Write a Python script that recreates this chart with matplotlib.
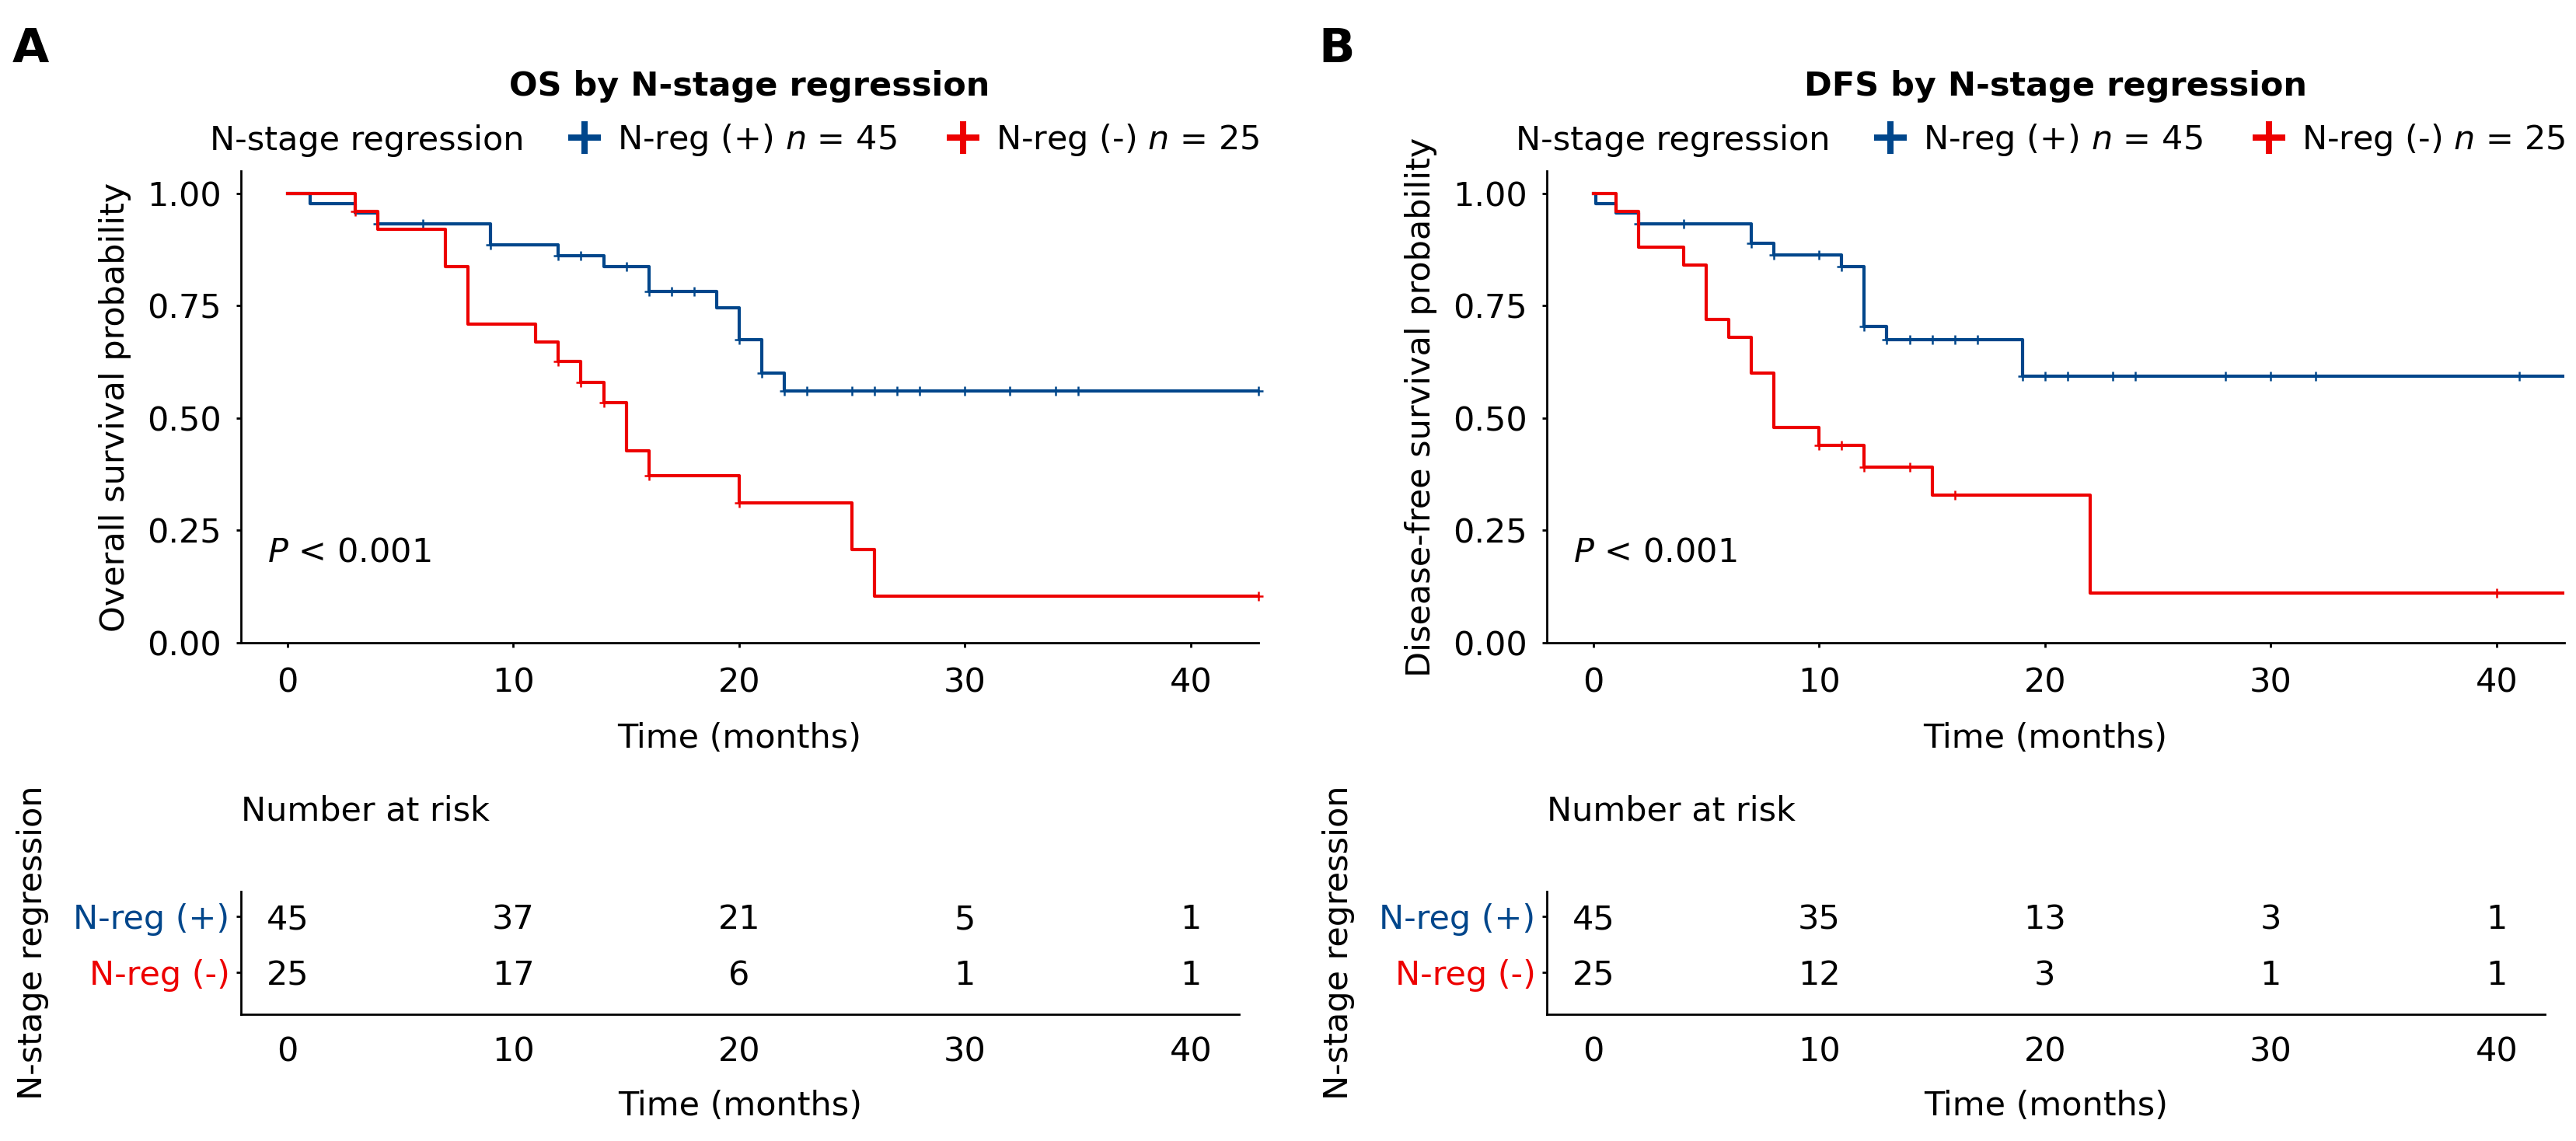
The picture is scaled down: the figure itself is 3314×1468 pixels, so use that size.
import numpy as np
import matplotlib
matplotlib.use('Agg')
import matplotlib.pyplot as plt
from matplotlib.lines import Line2D

plt.rcParams['font.family'] = ['DejaVu Sans']
plt.rcParams['mathtext.fontset'] = 'dejavusans'
plt.rcParams['font.size'] = 15.5

# ---- data ----
# OS, N-reg (+)
os_pos_t = [0, 1, 3, 4, 9, 12, 14, 16, 19, 20, 21, 22]
os_pos_s = [1.000, 0.978, 0.956, 0.933, 0.886, 0.862, 0.837, 0.782, 0.746, 0.675, 0.600, 0.560]
os_pos_cens = [4, 6, 9, 12, 13, 15, 16, 17, 18, 20, 21, 22, 23, 25, 26, 27, 28, 30, 32, 34, 35, 43]
# OS, N-reg (-)
os_neg_t = [0, 3, 4, 7, 8, 11, 12, 13, 14, 15, 16, 20, 25, 26]
os_neg_s = [1.000, 0.960, 0.920, 0.837, 0.710, 0.669, 0.626, 0.580, 0.534, 0.427, 0.372, 0.312, 0.208, 0.104]
os_neg_cens = [3, 12, 13, 14, 16, 20, 43]

# DFS, N-reg (+)
dfs_pos_t = [0, 0.1, 1, 2, 7, 8, 11, 12, 13, 19]
dfs_pos_s = [1.000, 0.978, 0.956, 0.933, 0.889, 0.863, 0.838, 0.704, 0.675, 0.593]
dfs_pos_cens = [2, 4, 7, 8, 10, 11, 12, 13, 14, 15, 16, 17, 19, 20, 21, 23, 24, 28, 30, 32, 41]
# DFS, N-reg (-)
dfs_neg_t = [0, 1, 2, 4, 5, 6, 7, 8, 10, 12, 15, 22]
dfs_neg_s = [1.000, 0.960, 0.880, 0.840, 0.720, 0.680, 0.600, 0.480, 0.440, 0.391, 0.328, 0.110]
dfs_neg_cens = [10, 11, 12, 14, 16, 40]

t_end = 43

# number at risk
risk_times = [0, 10, 20, 30, 40]
os_risk_pos = [45, 37, 21, 5, 1]
os_risk_neg = [25, 17, 6, 1, 1]
dfs_risk_pos = [45, 35, 13, 3, 1]
dfs_risk_neg = [25, 12, 3, 1, 1]

group_labels = ['N-reg (+)', 'N-reg (-)']
legend_labels = [r'N-reg (+) $n$ = 45', r'N-reg (-) $n$ = 25']

blue = '#00468B'
red = '#ED0000'

W, H, DPI = 3314, 1468, 200
fig = plt.figure(figsize=(W / DPI, H / DPI), dpi=DPI)


def box(left, top, right, bottom):
    # pixel box -> figure fraction
    return [left / W, 1 - bottom / H, (right - left) / W, (bottom - top) / H]


def level_at(times, surv, t):
    idx = np.searchsorted(times, t, side='right') - 1
    return np.asarray(surv)[idx]


def panel(dx, letter, title, ylabel, curves, risk_pos, risk_neg):
    # --- survival curves ---
    ax = fig.add_axes(box(310 + dx, 220, 1619 + dx, 827))
    for (times, surv, cens), color in zip(curves, [blue, red]):
        ax.step(list(times) + [t_end], list(surv) + [surv[-1]], where='post',
                color=color, lw=1.5)
        ax.plot(cens, level_at(times, surv, cens), linestyle='none', marker='+',
                ms=4.3, mew=0.9, color=color, clip_on=False)
    ax.set_xlim(-2.06, t_end)
    ax.set_ylim(0, 1.05)
    ax.set_xticks([0, 10, 20, 30, 40])
    ax.set_yticks([0, 0.25, 0.5, 0.75, 1.0])
    ax.set_yticklabels(['0.00', '0.25', '0.50', '0.75', '1.00'])
    for s in ['top', 'right']:
        ax.spines[s].set_visible(False)
    for s in ['left', 'bottom']:
        ax.spines[s].set_linewidth(1.0)
    ax.tick_params(axis='both', length=2, width=1.0)
    ax.tick_params(axis='y', pad=7)
    ax.tick_params(axis='x', pad=9)
    ax.set_ylabel(ylabel)
    ax.yaxis.set_label_coords(-0.1077, 0.5)
    ax.set_xlabel('Time (months)')
    ax.xaxis.set_label_coords(0.4897, -0.168)
    ax.text(-0.9, 0.181, r'$P$ < 0.001', va='baseline')
    ax.text(0.5, (827 - 123) / 607, title, transform=ax.transAxes,
            ha='center', va='baseline', fontweight='bold')

    # legend row
    fig.text((270 + dx) / W, 1 - 193 / H, 'N-stage regression', va='baseline')
    handles = [Line2D([], [], color=c, marker='+', linestyle='none',
                      markersize=15, markeredgewidth=2.9) for c in (blue, red)]
    ax.legend(handles, legend_labels, loc='lower left',
              bbox_to_anchor=((730 + dx) / W, 1 - 203 / H),
              bbox_transform=fig.transFigure, ncol=2, frameon=False,
              handlelength=1.0, handletextpad=0.48, columnspacing=1.48,
              borderpad=0, borderaxespad=0)

    fig.text((16 + dx) / W, 1 - 80 / H, letter, fontsize=22,
             fontweight='bold', va='baseline')

    # --- risk table ---
    rt = fig.add_axes(box(310 + dx, 1147, 1594 + dx, 1305))
    rt.set_xlim(-2.06, 42.14)
    rt.set_ylim(0.25, 2.444)
    for t, n in zip(risk_times, risk_pos):
        rt.text(t, 2, str(n), ha='center', va='center_baseline')
    for t, n in zip(risk_times, risk_neg):
        rt.text(t, 1, str(n), ha='center', va='center_baseline')
    rt.set_xticks([0, 10, 20, 30, 40])
    rt.set_yticks([2, 1])
    rt.set_yticklabels(group_labels)
    for lbl, c in zip(rt.get_yticklabels(), [blue, red]):
        lbl.set_color(c)
    for s in ['top', 'right']:
        rt.spines[s].set_visible(False)
    for s in ['left', 'bottom']:
        rt.spines[s].set_linewidth(1.0)
    rt.tick_params(axis='y', length=2, width=1.0, pad=3.2)
    rt.tick_params(axis='x', length=0, pad=10)
    rt.set_xlabel('Time (months)')
    rt.xaxis.set_label_coords(0.5, -0.612)
    rt.set_ylabel('N-stage regression')
    rt.yaxis.set_label_coords(-0.1924, 0.582)
    rt.text(0, 1.582, 'Number at risk', transform=rt.transAxes,
            ha='left', va='baseline')


panel(0, 'A', 'OS by N-stage regression', 'Overall survival probability',
      [(os_pos_t, os_pos_s, os_pos_cens), (os_neg_t, os_neg_s, os_neg_cens)],
      os_risk_pos, os_risk_neg)
panel(1680, 'B', 'DFS by N-stage regression', 'Disease-free survival probability',
      [(dfs_pos_t, dfs_pos_s, dfs_pos_cens), (dfs_neg_t, dfs_neg_s, dfs_neg_cens)],
      dfs_risk_pos, dfs_risk_neg)

fig.savefig('out.png', dpi=DPI)
